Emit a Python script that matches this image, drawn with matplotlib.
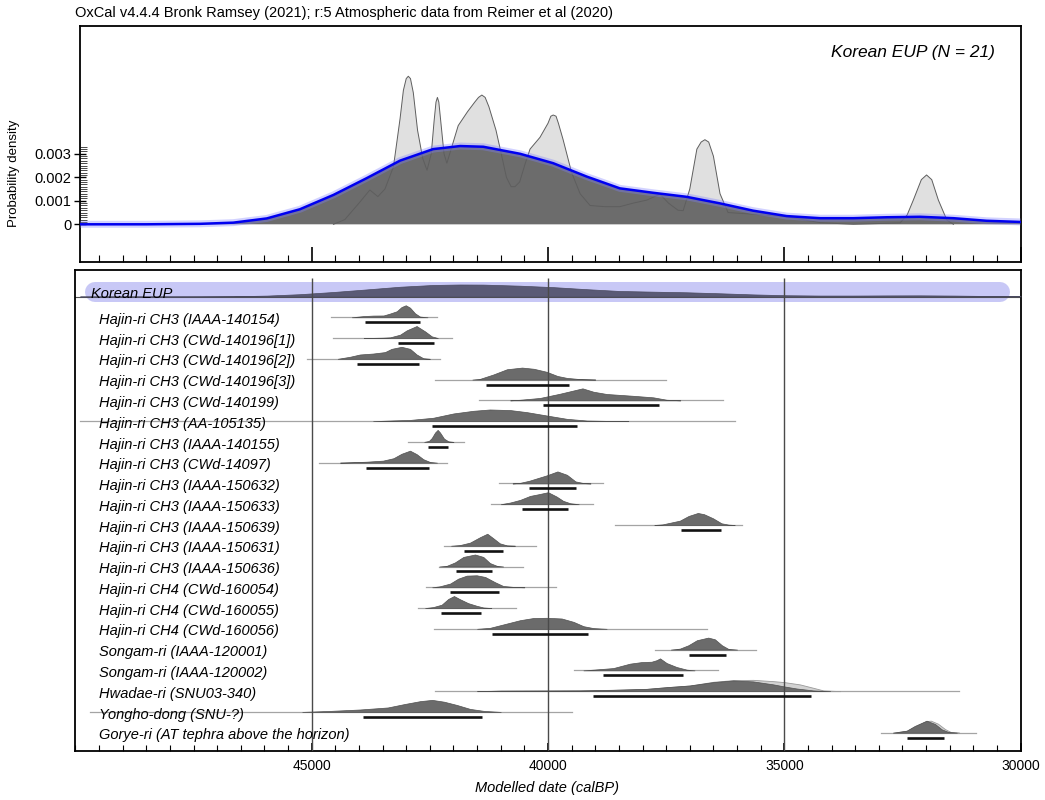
import numpy as np
import matplotlib.pyplot as plt
from matplotlib.ticker import MultipleLocator, FixedLocator

plt.rcParams['font.family'] = ['Liberation Sans', 'DejaVu Sans']

header = "OxCal v4.4.4 Bronk Ramsey (2021); r:5 Atmospheric data from Reimer et al (2020)"
group_name = "Korean EUP"
group_title = "Korean EUP (N = 21)"
x_title = "Modelled date (calBP)"
y_title = "Probability density"

#KDE model of the whole group (blue line + dark fill)
kde_date = [49900, 48500, 47360, 46660, 45950, 45250, 44540, 43840, 43130, 42430,
            41860, 41370, 40590, 39890, 39180, 38480, 37770, 37070, 36360, 35660,
            34950, 34240, 33540, 32830, 32130, 31420, 30720, 30000]
kde_dens = [0.0, 0.0, 0.00002, 0.00007, 0.00025, 0.00064, 0.00125, 0.00196, 0.00271, 0.0032,
            0.00333, 0.0033, 0.0030, 0.0026, 0.00203, 0.00153, 0.00134, 0.00117, 0.00089, 0.00058,
            0.00035, 0.00026, 0.00026, 0.0003, 0.00032, 0.00026, 0.00015, 0.0001]

#summed distribution of the dates (light grey)
sum_date = [44540, 44300, 44000, 43770, 43600, 43450, 43270, 43130, 43060, 43000,
            42956, 42910, 42850, 42760, 42650, 42560, 42470, 42410, 42370, 42340,
            42310, 42270, 42200, 42140, 42050, 41900, 41700, 41550, 41470, 41400,
            41330, 41250, 41100, 41000, 40880, 40780, 40700, 40600, 40480, 40380,
            40170, 40000, 39940, 39890, 39830, 39780, 39680, 39500, 39320, 39110,
            38800, 38480, 38200, 37910, 37630, 37450, 37250, 37140, 37000, 36850,
            36760, 36680, 36600, 36500, 36360, 36190, 35660, 34950, 34240, 33540,
            32550, 32400, 32270, 32100, 31990, 31880, 31740, 31560, 31420]
sum_dens = [0.0, 0.0002, 0.0009, 0.00146, 0.00118, 0.0015, 0.00245, 0.0045, 0.0057, 0.0062,
            0.0063, 0.0062, 0.0056, 0.0040, 0.0028, 0.0023, 0.0030, 0.0044, 0.0052, 0.0054,
            0.0052, 0.0044, 0.0030, 0.0026, 0.0032, 0.0042, 0.0048, 0.0052, 0.0054, 0.0055,
            0.0054, 0.0050, 0.0040, 0.0031, 0.0020, 0.0016, 0.0016, 0.0018, 0.0026, 0.0032,
            0.0037, 0.0043, 0.0046, 0.00465, 0.0046, 0.0043, 0.0036, 0.0022, 0.0013, 0.0008,
            0.00075, 0.00075, 0.0009, 0.00103, 0.00128, 0.0009, 0.0006, 0.00058, 0.0015, 0.0032,
            0.0035, 0.0036, 0.0035, 0.0029, 0.0013, 0.0005, 0.00043, 0.00032, 0.00007, 0.0,
            0.00006, 0.0004, 0.00103, 0.0019, 0.0021, 0.0019, 0.00103, 0.00018, 0.0]

row_labels = ["Hajin-ri CH3 (IAAA-140154)", "Hajin-ri CH3 (CWd-140196[1])",
              "Hajin-ri CH3 (CWd-140196[2])", "Hajin-ri CH3 (CWd-140196[3])",
              "Hajin-ri CH3 (CWd-140199)", "Hajin-ri CH3 (AA-105135)",
              "Hajin-ri CH3 (IAAA-140155)", "Hajin-ri CH3 (CWd-14097)",
              "Hajin-ri CH3 (IAAA-150632)", "Hajin-ri CH3 (IAAA-150633)",
              "Hajin-ri CH3 (IAAA-150639)", "Hajin-ri CH3 (IAAA-150631)",
              "Hajin-ri CH3 (IAAA-150636)", "Hajin-ri CH4 (CWd-160054)",
              "Hajin-ri CH4 (CWd-160055)", "Hajin-ri CH4 (CWd-160056)",
              "Songam-ri (IAAA-120001)", "Songam-ri (IAAA-120002)",
              "Hwadae-ri (SNU03-340)", "Yongho-dong (SNU-?)",
              "Gorye-ri (AT tephra above the horizon)"]

#full extent of each distribution (thin line)
row_span = [(44590, 42350), (44556, 42038), (45099, 42285), (42391, 37503),
            (41457, 36291), (49903, 36043), (42962, 41777), (44846, 42143),
            (41037, 38836), (41206, 39054), (38584, 35891), (42201, 40254),
            (42300, 40535), (42581, 39830), (42744, 40677), (42412, 36631),
            (37736, 35605), (39441, 36413), (42387, 31297), (49685, 39492),
            (32951, 30941)]

#95.4% ranges (black bars)
row_hpd = [(43872, 42708), (43174, 42412), (44048, 42730), (41312, 39549),
           (40112, 37657), (42448, 39393), (42545, 42122), (43851, 42512),
           (40402, 39407), (40556, 39583), (37186, 36329), (41771, 40958),
           (41940, 41178), (42067, 41037), (42264, 41424), (41191, 39147),
           (37010, 36233), (38830, 37150), (39054, 34435), (43919, 41388),
           (32410, 31620)]

#posterior shapes, heights relative to the row peak
row_x = [
    [44150, 43900, 43700, 43480, 43350, 43200, 43100, 43010, 42920, 42814, 42710, 42550],
    [43900, 43500, 43340, 43130, 42990, 42780, 42600, 42460, 42330],
    [44450, 44190, 43980, 43700, 43450, 43310, 43100, 42920, 42780, 42640, 42500],
    [41600, 41440, 41160, 40870, 40550, 40300, 40030, 39800, 39600, 39320, 39000],
    [40800, 40590, 40170, 39750, 39270, 39040, 38760, 38200, 37770, 37490, 37200],
    [43700, 43270, 42920, 42430, 42000, 41580, 41230, 40800, 40450, 40030, 39600, 39180, 38750, 38300],
    [42620, 42520, 42460, 42390, 42335, 42285, 42200, 42110, 42000],
    [44400, 44190, 43840, 43490, 43270, 43100, 42920, 42780, 42640, 42500, 42350],
    [40750, 40590, 40400, 40170, 40030, 39800, 39600, 39420, 39250, 39100],
    [41000, 40800, 40590, 40380, 40200, 40000, 39820, 39680, 39530, 39350],
    [37750, 37575, 37210, 37025, 36830, 36700, 36510, 36330, 36180, 36050],
    [42050, 41860, 41650, 41440, 41285, 41160, 41020, 40870, 40700],
    [42300, 42140, 41970, 41790, 41545, 41370, 41230, 41085, 40950],
    [42450, 42290, 42070, 41900, 41720, 41510, 41330, 41120, 40950, 40730, 40500],
    [42600, 42430, 42250, 42110, 41990, 41860, 41690, 41510, 41370, 41200],
    [41500, 41230, 40870, 40590, 40310, 40030, 39710, 39460, 39250, 39040, 38760],
    [37400, 37210, 37030, 36850, 36610, 36470, 36320, 36185, 36000],
    [39250, 39040, 38620, 38265, 38020, 37810, 37700, 37630, 37490, 37280, 37065, 36900],
    [41500, 41000, 39320, 38620, 37910, 37490, 37000, 36500, 36080, 35660, 35230, 35000, 34740, 34390, 34030],
    [45200, 44630, 43980, 43390, 43030, 42700, 42450, 42200, 41930, 41650, 41350, 41000],
    [32700, 32410, 32240, 31990, 31810, 31670, 31530, 31350],
]
row_h = [
    [0, 0.1, 0.14, 0.15, 0.3, 0.5, 0.85, 1.0, 0.8, 0.33, 0.06, 0],
    [0, 0.03, 0.06, 0.28, 0.64, 1.0, 0.55, 0.14, 0],
    [0, 0.17, 0.36, 0.44, 0.56, 0.83, 1.0, 0.83, 0.36, 0.05, 0],
    [0, 0.06, 0.42, 0.86, 1.0, 0.9, 0.65, 0.3, 0.14, 0.04, 0],
    [0, 0.05, 0.2, 0.55, 1.0, 0.72, 0.53, 0.38, 0.25, 0.05, 0],
    [0, 0.06, 0.1, 0.28, 0.64, 0.86, 0.97, 0.92, 0.75, 0.47, 0.19, 0.05, 0.02, 0],
    [0, 0.08, 0.32, 0.78, 1.0, 0.78, 0.27, 0.05, 0],
    [0, 0.03, 0.08, 0.17, 0.37, 0.74, 1.0, 0.71, 0.29, 0.06, 0],
    [0, 0.05, 0.22, 0.5, 0.67, 1.0, 0.72, 0.17, 0.03, 0],
    [0, 0.14, 0.36, 0.69, 0.83, 1.0, 0.64, 0.28, 0.08, 0],
    [0, 0.05, 0.36, 0.75, 1.0, 0.9, 0.56, 0.14, 0.03, 0],
    [0, 0.06, 0.26, 0.71, 1.0, 0.63, 0.2, 0.03, 0],
    [0, 0.06, 0.34, 0.8, 1.0, 0.8, 0.29, 0.06, 0],
    [0, 0.08, 0.31, 0.72, 0.97, 1.0, 0.86, 0.42, 0.11, 0.03, 0],
    [0, 0.08, 0.28, 0.76, 1.0, 0.73, 0.41, 0.19, 0.05, 0],
    [0, 0.08, 0.44, 0.72, 0.9, 0.92, 0.86, 0.58, 0.22, 0.06, 0],
    [0, 0.08, 0.36, 0.78, 1.0, 0.86, 0.36, 0.06, 0],
    [0, 0.06, 0.19, 0.56, 0.69, 0.72, 0.85, 1.0, 0.61, 0.28, 0.06, 0],
    [0, 0.04, 0.06, 0.11, 0.19, 0.33, 0.47, 0.75, 0.89, 0.81, 0.56, 0.39, 0.22, 0.06, 0],
    [0, 0.08, 0.2, 0.37, 0.66, 0.9, 1.0, 0.85, 0.58, 0.25, 0.08, 0],
    [0, 0.17, 0.56, 1.0, 0.72, 0.28, 0.06, 0],
]

#unmodelled (likelihood) outlines that show above the posterior
hwadae_prior_x = [41500, 41000, 39320, 38620, 37910, 37490, 37000, 36500, 36080, 35660,
                  35230, 35000, 34670, 34390, 34175, 33820]
hwadae_prior_h = [0, 0.04, 0.06, 0.11, 0.19, 0.33, 0.47, 0.78, 0.92, 0.94,
                  0.83, 0.75, 0.56, 0.28, 0.06, 0]
gorye_prior_x = [32700, 32410, 32240, 31990, 31900, 31750, 31600, 31480, 31300]
gorye_prior_h = [0, 0.15, 0.5, 0.97, 1.0, 0.75, 0.3, 0.06, 0]
priors = {19: (hwadae_prior_x, hwadae_prior_h), 21: (gorye_prior_x, gorye_prior_h)}

major_dates = [45000, 40000, 35000, 30000]

#figure layout (pixel based, 1045 x 800)
W, H = 1045, 800
fig = plt.figure(figsize=(W / 100, H / 100), dpi=100)

ax1 = fig.add_axes([80 / W, 1 - 262 / H, (1020.6 - 80) / W, (262 - 26) / H])
ax2 = fig.add_axes([75 / W, 1 - 751 / H, (1020.6 - 75) / W, (751 - 270) / H])

px_per_year = 236.3 / 5000

#---------- top panel ----------
ax1.fill_between(sum_date, 0, sum_dens, facecolor='#e0e0e0', edgecolor='none', zorder=1)
ax1.fill_between(kde_date, 0, kde_dens, facecolor='#6c6c6c', edgecolor='none', zorder=2)
ax1.plot(sum_date, sum_dens, color='#5e5e5e', lw=0.7, zorder=3)
ax1.plot(kde_date, kde_dens, color='#8080ff', lw=5, alpha=0.35, zorder=4,
         solid_capstyle='butt')
ax1.plot(kde_date, kde_dens, color='#0000f0', lw=1.8, zorder=5)

ax1.set_xlim(45000 + (311.7 - 80) / px_per_year, 30000)
ax1.set_ylim(-(262 - 224.3) / 23.5e3, (224.3 - 26) / 23.5e3)

ax1.set_yticks([0, 0.001, 0.002, 0.003])
ax1.set_yticklabels(['0', '0.001', '0.002', '0.003'], fontsize=10.5)
ax1.yaxis.set_minor_locator(FixedLocator(np.arange(0, 0.00335, 0.0001)))
ax1.tick_params(axis='y', which='major', direction='inout', length=8, width=1, pad=2)
ax1.tick_params(axis='y', which='minor', direction='in', length=5, width=0.5)
ax1.set_xticks(major_dates)
ax1.xaxis.set_minor_locator(MultipleLocator(500))
ax1.tick_params(axis='x', which='major', direction='in', length=11, width=1.2,
                labelbottom=False)
ax1.tick_params(axis='x', which='minor', direction='in', length=5, width=0.8)
for s in ax1.spines.values():
    s.set_linewidth(1.3)

fig.text(995 / W, 1 - 52 / H, group_title, ha='right', va='center',
         fontsize=12.5, style='italic')
fig.text(14 / W, 1 - 173 / H, y_title, rotation=90, ha='center', va='center',
         fontsize=9.5)
fig.text(75 / W, 1 - 13 / H, header, ha='left', va='center', fontsize=10.5)

#---------- bottom panel ----------
row_px = 20.77
peak = 12 / row_px
ax2.set_xlim(45000 + (311.7 - 75) / px_per_year, 30000)
ax2.set_ylim((751 - 296.5) / row_px, (270 - 296.5) / row_px)

ytr = ax2.get_yaxis_transform()

#group row (Korean EUP) with lavender band
band_y = (292 - 296.5) / row_px
ax2.plot([(95 - 75) / 945.6, (1000 - 75) / 945.6], [band_y, band_y], transform=ytr,
         color='#c8c8f6', lw=14.4, solid_capstyle='round', zorder=1)
ax2.axhline(0, color='#505050', lw=0.8, zorder=2)
kde_norm = np.array(kde_dens) / max(kde_dens)
ax2.fill_between(kde_date, 0, -kde_norm * peak, facecolor='#5a5a76',
                 edgecolor='#4a4a60', lw=0.5, zorder=3)
ax2.text((91 - 75) / 945.6, 0.06, group_name, transform=ytr, fontsize=10.5,
         style='italic', va='baseline', ha='left', zorder=6)

for k, lab in enumerate(row_labels, start=1):
    ax2.plot(row_span[k - 1], [k, k], color='#a4a4a4', lw=0.9, zorder=2)
    if k in priors:
        px, ph = priors[k]
        ax2.fill_between(px, k, k - np.array(ph) * peak, facecolor='#d2d2d2',
                         edgecolor='#9a9a9a', lw=0.6, zorder=3)
    ax2.fill_between(row_x[k - 1], k, k - np.array(row_h[k - 1]) * peak,
                     facecolor='#6b6b6b', edgecolor='#505050', lw=0.5, zorder=4)
    ax2.plot(row_hpd[k - 1], [k + 0.24, k + 0.24], color='#111111', lw=1.9,
             solid_capstyle='butt', zorder=5)
    ax2.text((99 - 75) / 945.6, k + 0.32, lab, transform=ytr, fontsize=10.5,
             style='italic', va='baseline', ha='left', zorder=6)

ax2.vlines(major_dates[:3], ax2.get_ylim()[0], (278 - 296.5) / row_px,
           color='#4a4a4a', lw=1.0, zorder=4.5)

ax2.set_yticks([])
ax2.set_xticks(major_dates)
ax2.set_xticklabels([str(d) for d in major_dates], fontsize=10)
ax2.xaxis.set_minor_locator(MultipleLocator(500))
ax2.tick_params(axis='x', which='major', direction='in', length=6, width=1.2, pad=6)
ax2.tick_params(axis='x', which='minor', direction='in', length=4, width=0.8)
for s in ax2.spines.values():
    s.set_linewidth(1.3)

fig.text(547 / W, 1 - 788 / H, x_title, ha='center', va='center',
         fontsize=10.5, style='italic')

fig.savefig('out.png', dpi=100)
